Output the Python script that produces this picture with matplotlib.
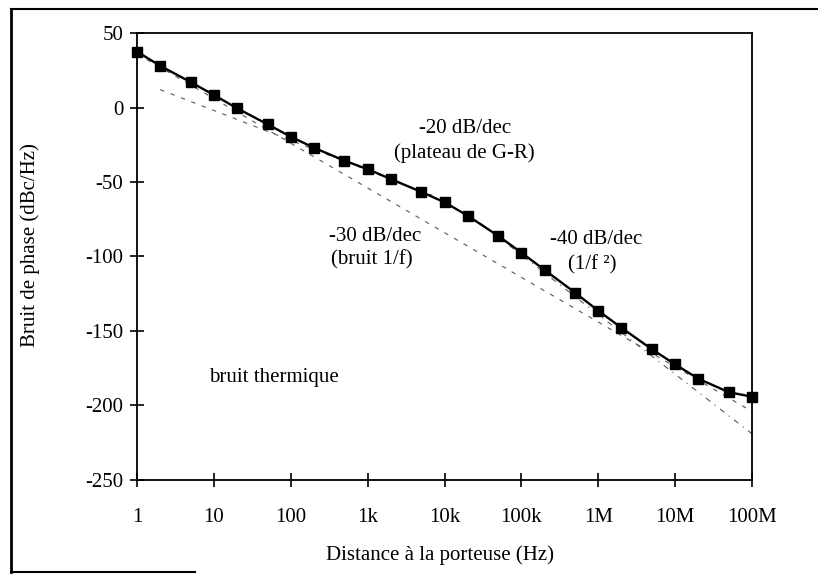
import numpy as np
import matplotlib
matplotlib.use('Agg')
import matplotlib.pyplot as plt
from matplotlib.lines import Line2D

plt.rcParams['font.family'] = ['Liberation Serif', 'DejaVu Serif']
plt.rcParams['axes.unicode_minus'] = False

# Measured phase noise vs. offset from carrier
freq = [1, 2, 5, 10, 20, 50, 100, 200, 500, 1e3, 2e3, 5e3, 1e4, 2e4, 5e4,
        1e5, 2e5, 5e5, 1e6, 2e6, 5e6, 1e7, 2e7, 5e7, 1e8]
noise = [37.5, 28, 17, 8.4, -0.5, -11.3, -19.6, -27, -35.7, -41.4, -48, -56.7,
         -63.6, -72.6, -86.2, -97.4, -109, -124.3, -136.4, -147.8, -162.3,
         -172.4, -182, -191.1, -194.1]

# Asymptotes (end points)
gr_f = [2, 7e3]
gr_v = [12, -59]
flicker_f = [1, 1e8]
flicker_v = [36, -204]
f2_f = [3e4, 1e8]
f2_v = [-78, -219]

xticks = [1, 10, 100, 1e3, 1e4, 1e5, 1e6, 1e7, 1e8]
xtick_labels = ['1', '10', '100', '1k', '10k', '100k', '1M', '10M', '100M']
yticks = [-250, -200, -150, -100, -50, 0, 50]

fs = 15

fig = plt.figure(figsize=(8.18, 5.76), dpi=100)
ax = fig.add_axes([0.1675, 0.1667, 0.7518, 0.776])

ax.plot(gr_f, gr_v, color='0.35', lw=0.8, dashes=(4, 6))
ax.plot(flicker_f, flicker_v, color='0.35', lw=0.8, dashes=(4, 6))
ax.plot(f2_f, f2_v, color='0.35', lw=0.8, dashes=(5, 5, 1, 5))
ax.plot(freq, noise, color='black', lw=1.7, marker='s', markersize=6.5,
        clip_on=False, zorder=5)

ax.set_xscale('log')
ax.set_xlim(1, 1e8)
ax.set_ylim(-250, 50)
ax.set_xticks(xticks)
ax.set_xticklabels(xtick_labels)
ax.set_yticks(yticks)
ax.minorticks_off()
ax.tick_params(axis='both', direction='inout', length=10, width=1.2,
               labelsize=fs, colors='black')
ax.tick_params(axis='y', pad=5)
ax.tick_params(axis='x', pad=15)
for sp in ax.spines.values():
    sp.set_linewidth(1.3)

ax.set_xlabel('Distance à la porteuse (Hz)', fontsize=fs)
ax.set_ylabel('Bruit de phase (dBc/Hz)', fontsize=fs)
ax.xaxis.set_label_coords(0.493, -0.145)
ax.yaxis.set_label_coords(-0.157, 0.526)

# slope annotations
kw = dict(transform=ax.transAxes, ha='center', va='center', fontsize=fs)
ax.text(0.533, 0.787, '-20 dB/dec', **kw)
ax.text(0.533, 0.732, '(plateau de G-R)', **kw)
ax.text(0.387, 0.544, '-30 dB/dec', **kw)
ax.text(0.382, 0.492, '(bruit 1/f)', **kw)
ax.text(0.746, 0.537, '-40 dB/dec', **kw)
ax.text(0.741, 0.481, '(1/f ²)', **kw)
ax.text(0.223, 0.230, 'bruit thermique', **kw)

# partial outer frame
fig.add_artist(Line2D([0.0134, 0.0134], [0.984, 0.007], color='black', lw=2))
fig.add_artist(Line2D([0.0134, 1.0], [0.984, 0.984], color='black', lw=1.5))
fig.add_artist(Line2D([0.0134, 0.238], [0.007, 0.007], color='black', lw=1.5))

fig.savefig('out.png', dpi=100)
